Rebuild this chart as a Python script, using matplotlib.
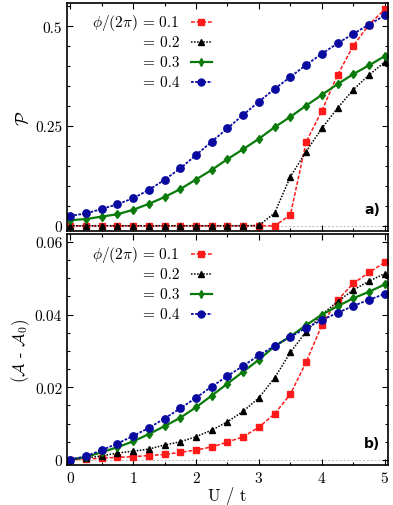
import numpy as np
import matplotlib
matplotlib.use("Agg")
import matplotlib.pyplot as plt
from matplotlib.ticker import MultipleLocator, FuncFormatter

plt.rcParams['font.family'] = 'serif'
plt.rcParams['font.serif'] = ['cmr10']
plt.rcParams['mathtext.fontset'] = 'cm'
plt.rcParams['axes.formatter.use_mathtext'] = True

U = [0, 0.25, 0.5, 0.75, 1.0, 1.25, 1.5, 1.75, 2.0, 2.25, 2.5, 2.75,
     3.0, 3.25, 3.5, 3.75, 4.0, 4.25, 4.5, 4.75, 5.0]
phi_labels = ["0.1", "0.2", "0.3", "0.4"]

# panel a) P
P_01 = [0, 0, 0, 0, 0, 0, 0, 0, 0, 0, 0, 0,
        0, 0, 0.027, 0.21, 0.288, 0.378, 0.451, 0.504, 0.542]
P_02 = [0, 0, 0, 0, 0, 0, 0, 0, 0, 0, 0, 0,
        0.001, 0.032, 0.123, 0.186, 0.244, 0.295, 0.341, 0.378, 0.41]
P_03 = [0.014, 0.017, 0.023, 0.029, 0.040, 0.055, 0.072, 0.092, 0.116, 0.140,
        0.167, 0.192, 0.218, 0.247, 0.273, 0.301, 0.328, 0.355, 0.380, 0.402, 0.425]
P_04 = [0.025, 0.031, 0.042, 0.054, 0.069, 0.090, 0.115, 0.144, 0.177, 0.211,
        0.244, 0.278, 0.311, 0.343, 0.373, 0.403, 0.431, 0.457, 0.481, 0.504, 0.527]

# panel b) A - A0
A_01 = [0.0001, 0.0002, 0.0005, 0.0007, 0.0009, 0.0012, 0.0015, 0.0021, 0.0027, 0.0036,
        0.0049, 0.0064, 0.0090, 0.0127, 0.0181, 0.0269, 0.0371, 0.0440, 0.0486, 0.0516, 0.0544]
A_02 = [0.0001, 0.0005, 0.0011, 0.0019, 0.0024, 0.0030, 0.0041, 0.0050, 0.0064, 0.0082,
        0.0105, 0.0134, 0.0171, 0.0226, 0.0296, 0.0353, 0.0400, 0.0436, 0.0468, 0.0492, 0.0513]
A_03 = [0.0001, 0.0008, 0.0021, 0.0035, 0.0051, 0.0071, 0.0093, 0.0116, 0.0145, 0.0177,
        0.0210, 0.0243, 0.0276, 0.0313, 0.0340, 0.0371, 0.0400, 0.0423, 0.0445, 0.0463, 0.0483]
A_04 = [0.0001, 0.0010, 0.0027, 0.0045, 0.0066, 0.0088, 0.0114, 0.0142, 0.0171, 0.0202,
        0.0231, 0.0259, 0.0288, 0.0314, 0.0339, 0.0363, 0.0385, 0.0405, 0.0424, 0.0441, 0.0457]

styles = [
    dict(color='#ff1a1a', ls=(0, (2.5, 1.2)), marker='s', ms=4.3, lw=1.1),
    dict(color='black', ls=(0, (1, 1)), marker='^', ms=4.5, lw=1.1),
    dict(color='#0a7a0a', ls='-', marker='d', ms=4.5, lw=1.6),
    dict(color='#0a0aa0', ls=(0, (1.5, 0.8)), marker='o', ms=5.3, lw=1.3),
]

fig = plt.figure(figsize=(3.93, 5.06), dpi=100)
ax1 = fig.add_axes([0.1705, 0.5415, 0.8165, 0.4505])
ax2 = fig.add_axes([0.1705, 0.079, 0.8165, 0.4566])


def draw(ax, series, ymin, ymax, major, minor, tag):
    ax.axhline(0, color='#bbbbbb', lw=0.7, ls=(0, (2, 2)), zorder=0)
    for y, st in zip(series, styles):
        ax.plot(U, y, color=st['color'], ls=st['ls'], marker=st['marker'],
                ms=st['ms'], lw=st['lw'], mec=st['color'], mfc=st['color'])
    ax.set_xlim(-0.05, 5.05)
    ax.set_ylim(ymin, ymax)
    ax.xaxis.set_major_locator(MultipleLocator(1))
    ax.xaxis.set_minor_locator(MultipleLocator(0.5))
    ax.yaxis.set_major_locator(MultipleLocator(major))
    ax.yaxis.set_minor_locator(MultipleLocator(minor))
    ax.tick_params(which='both', direction='in', top=True, right=True, labelsize=11)
    ax.tick_params(which='major', length=4, width=0.8)
    ax.tick_params(which='minor', length=2.5, width=0.8)
    for s in ax.spines.values():
        s.set_linewidth(1.2)
    ax.text(0.975, 0.065, tag, transform=ax.transAxes, ha='right', va='bottom',
            fontsize=10, fontweight='bold', family='DejaVu Sans')
    # legend drawn by hand, right-aligned labels as in the reference
    for i, (lab, st) in enumerate(zip(phi_labels, styles)):
        yy = 0.915 - i * 0.087
        pre = r"$\phi/(2\pi)$ = " if i == 0 else "= "
        ax.text(0.35, yy, pre + lab, transform=ax.transAxes, ha='right',
                va='center', fontsize=11)
        ax.plot([0.386, 0.452], [yy, yy], transform=ax.transAxes,
                color=st['color'], ls=st['ls'], lw=st['lw'])
        ax.plot([0.419], [yy], transform=ax.transAxes, color=st['color'],
                marker=st['marker'], ms=st['ms'] - 0.3, ls='none')


draw(ax1, [P_01, P_02, P_03, P_04], -0.013, 0.558, 0.25, 0.05, 'a)')
draw(ax2, [A_01, A_02, A_03, A_04], -0.0014, 0.0622, 0.02, 0.005, 'b)')

ax1.yaxis.set_major_formatter(FuncFormatter(lambda v, p: f"{v:g}"))
ax2.yaxis.set_major_formatter(FuncFormatter(lambda v, p: "0" if abs(v) < 1e-9 else f"{v:.2f}"))
ax1.tick_params(labelbottom=False)

ax1.set_ylabel(r"$\mathcal{P}$", fontsize=13, labelpad=2)
ax2.set_ylabel(r"($\mathcal{A}$ - $\mathcal{A}_0$)", fontsize=12, labelpad=2)
ax2.set_xlabel("U / t", fontsize=12, labelpad=1)

fig.savefig("out.png", dpi=100)
